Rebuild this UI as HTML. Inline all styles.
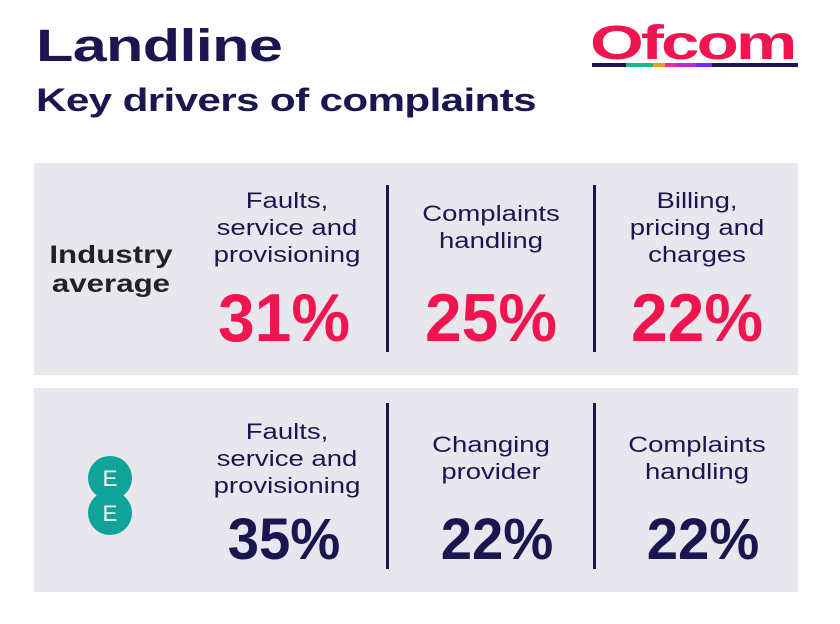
<!DOCTYPE html>
<html><head><meta charset="utf-8"><style>
body{margin:0;width:840px;height:624px;background:#fff;font-family:"Liberation Sans",sans-serif;position:relative;overflow:hidden;color:#1b1650}
.a{position:absolute}
.panel{position:absolute;left:34px;width:764px;background:#e8e7ee}
.lbl{position:absolute;width:200px;text-align:center;font-size:22px;line-height:27px;color:#1b1650;transform:scaleX(1.25)}
.pc{position:absolute;width:200px;text-align:center;font-weight:bold;transform:scaleX(0.97)}
.div{position:absolute;width:3px;background:#1b1650}
</style></head><body>
<div class="a" style="left:36px;top:20px;font-size:45px;font-weight:bold;letter-spacing:-0.5px;transform:scaleX(1.36);transform-origin:left">Landline</div>
<div class="a" style="left:36px;top:82px;font-size:32px;font-weight:bold;letter-spacing:-0.5px;transform:scaleX(1.32);transform-origin:left">Key drivers of complaints</div>
<div class="a" style="left:590px;top:16px;font-size:48px;font-weight:bold;color:#f0144f;letter-spacing:-2px;transform:scaleX(1.44);transform-origin:left">Ofcom</div>
<div class="a" style="left:592px;top:63px;height:4px;width:206px;background:linear-gradient(90deg,#1b1650 0 34px,#1bb58c 34px 61px,#f39a1f 61px 73px,#e62da8 73px 84px,#c522d8 84px 104px,#6b2ff0 104px 120px,#1b1650 120px)"></div>

<div class="panel" style="top:163px;height:212px"></div>
<div class="panel" style="top:388px;height:204px"></div>

<div class="a" style="left:34px;top:241px;width:154px;text-align:center;font-size:25px;font-weight:bold;line-height:29px;color:#222;transform:scaleX(1.25)">Industry<br>average</div>

<div class="div" style="left:386px;top:185px;height:167px"></div>
<div class="div" style="left:593px;top:185px;height:167px"></div>
<div class="div" style="left:386px;top:403px;height:166px"></div>
<div class="div" style="left:593px;top:403px;height:166px"></div>

<div class="lbl" style="left:187px;top:187px">Faults,<br>service and<br>provisioning</div>
<div class="lbl" style="left:391px;top:200px">Complaints<br>handling</div>
<div class="lbl" style="left:597px;top:187px">Billing,<br>pricing and<br>charges</div>
<div class="pc" style="left:184px;top:279px;font-size:68px;color:#f0144f">31%</div>
<div class="pc" style="left:391px;top:279px;font-size:68px;color:#f0144f">25%</div>
<div class="pc" style="left:597px;top:279px;font-size:68px;color:#f0144f">22%</div>

<div class="lbl" style="left:187px;top:418px">Faults,<br>service and<br>provisioning</div>
<div class="lbl" style="left:391px;top:431px">Changing<br>provider</div>
<div class="lbl" style="left:597px;top:431px">Complaints<br>handling</div>
<div class="pc" style="left:184px;top:506px;font-size:58px">35%</div>
<div class="pc" style="left:397px;top:506px;font-size:58px">22%</div>
<div class="pc" style="left:603px;top:506px;font-size:58px">22%</div>

<svg class="a" style="left:80px;top:450px" width="60" height="90">
<circle cx="30" cy="28" r="22" fill="#0fa39a"/><circle cx="30" cy="63" r="22" fill="#0fa39a"/>
<text x="30" y="36" font-size="22" font-family="Liberation Sans" fill="#fff" text-anchor="middle">E</text>
<text x="30" y="71" font-size="22" font-family="Liberation Sans" fill="#fff" text-anchor="middle">E</text>
</svg>
</body></html>
